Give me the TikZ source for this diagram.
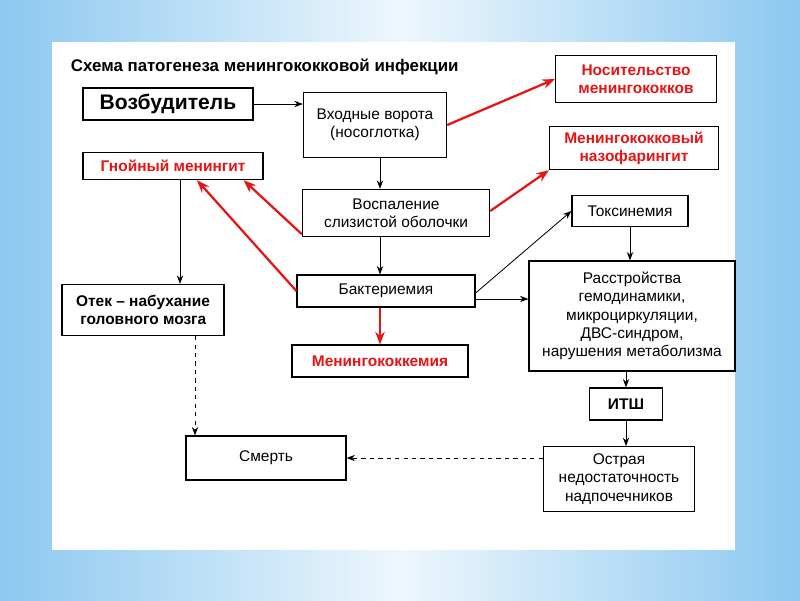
\documentclass[tikz,border=0pt]{standalone}
\usepackage{fontspec}
\setmainfont{Liberation Sans}
\usetikzlibrary{arrows.meta}
\definecolor{skyblue}{RGB}{140,200,240}
\definecolor{redtext}{RGB}{230,20,20}
\tikzset{
  stepbox/.style={draw,thick,fill=white,align=center,font=\fontsize{11}{13}\selectfont,inner sep=1pt},
  redbox/.style={stepbox,text=redtext,font=\fontsize{11}{13}\selectfont\bfseries},
  blk/.style={-{Stealth[length=6pt]},semithick},
  redarr/.style={-{Stealth[length=9pt]},line width=1.6pt,redtext},
  deadarr/.style={-{Stealth[length=6pt]},semithick,dashed}
}
\begin{document}
\begin{tikzpicture}[x=0.025cm,y=-0.025cm]
  \shade[left color=skyblue,right color=skyblue,middle color=white!85!skyblue] (0,0) rectangle (800,600);
  \fill[white] (52,42) rectangle (735,550);
  \node[anchor=west,font=\fontsize{12}{14}\selectfont\bfseries] (title) at (66,67)
    {Схема патогенеза менингококковой инфекции};
  % boxes
  \node[stepbox,minimum width=4.25cm,minimum height=0.8cm,font=\fontsize{15}{17}\selectfont\bfseries] (agent) at (168,104) {Возбудитель};
  \node[stepbox,minimum width=3.58cm,minimum height=1.62cm] (gate) at (375,125) {Входные ворота\\(носоглотка)};
  \node[redbox,minimum width=4.02cm,minimum height=1.18cm] (carrier) at (636,79) {Носительство\\менингококков};
  \node[redbox,minimum width=4.22cm,minimum height=1.08cm] (naso) at (634,148) {Менингококковый\\назофарингит};
  \node[redbox,minimum width=4.5cm,minimum height=0.68cm] (mening) at (173,166) {Гнойный менингит};
  \node[stepbox,minimum width=4.68cm,minimum height=1.18cm] (inflam) at (396,213) {Воспаление\\слизистой оболочки};
  \node[stepbox,minimum width=2.9cm,minimum height=0.78cm] (toxin) at (630,211) {Токсинемия};
  \node[stepbox,minimum width=4.45cm,minimum height=0.8cm] (bact) at (386,291) {Бактериемия};
  \node[stepbox,minimum width=5.15cm,minimum height=2.75cm] (hemo) at (632,316)
    {Расстройства\\гемодинамики,\\микроциркуляции,\\ДВС-синдром,\\нарушения метаболизма};
  \node[stepbox,minimum width=4.05cm,minimum height=1.28cm,font=\fontsize{11}{13}\selectfont\bfseries,align=left] (edema) at (143,310)
    {Отек -- набухание\\\ головного мозга};
  \node[redbox,minimum width=4.4cm,minimum height=0.8cm] (mcc) at (380,361) {Менингококкемия};
  \node[stepbox,minimum width=1.82cm,minimum height=0.8cm,font=\fontsize{11}{13}\selectfont\bfseries] (its) at (626,404) {ИТШ};
  \node[stepbox,minimum width=4cm,minimum height=1.1cm] (death) at (266,458) {Смерть};
  \node[stepbox,minimum width=3.78cm,minimum height=1.62cm] (adrenal) at (619,479)
    {Острая\\недостаточность\\надпочечников};
  % connectors
  \draw[blk] (agent) -- (agent -| gate.west);
  \draw[blk] (380,0 |- gate.south) -- (380,0 |- inflam.north);
  \draw[redarr] (gate.east) -- (carrier.west);
  \draw[redarr] (inflam.east) ++(0,-2) -- (naso.south west);
  \draw[redarr] (inflam.south west) ++(0,-3) -- ([xshift=-0.5cm]mening.south east);
  \draw[redarr] (bact.west) -- ([xshift=0.6cm]mening.south);
  \draw[blk] (380,0 |- inflam.south) -- (380,0 |- bact.north);
  \draw[redarr] (380,0 |- bact.south) -- (mcc);
  \draw[blk] (bact.east) ++(0,2) -- (toxin.west);
  \draw[blk] ([yshift=-0.2cm]bact.east) -- ([yshift=-0.2cm]bact.east -| hemo.west);
  \draw[blk] (toxin) -- (toxin |- hemo.north);
  \draw[blk] (its |- hemo.south) -- (its);
  \draw[blk] (its) -- (its |- adrenal.north);
  \draw[deadarr] (adrenal.west |- death) -- (death);
  \draw[blk] (180,0 |- mening.south) -- (180,0 |- edema.north);
  \draw[deadarr] (195,0 |- edema.south) -- (195,0 |- death.north);
\end{tikzpicture}
\end{document}
